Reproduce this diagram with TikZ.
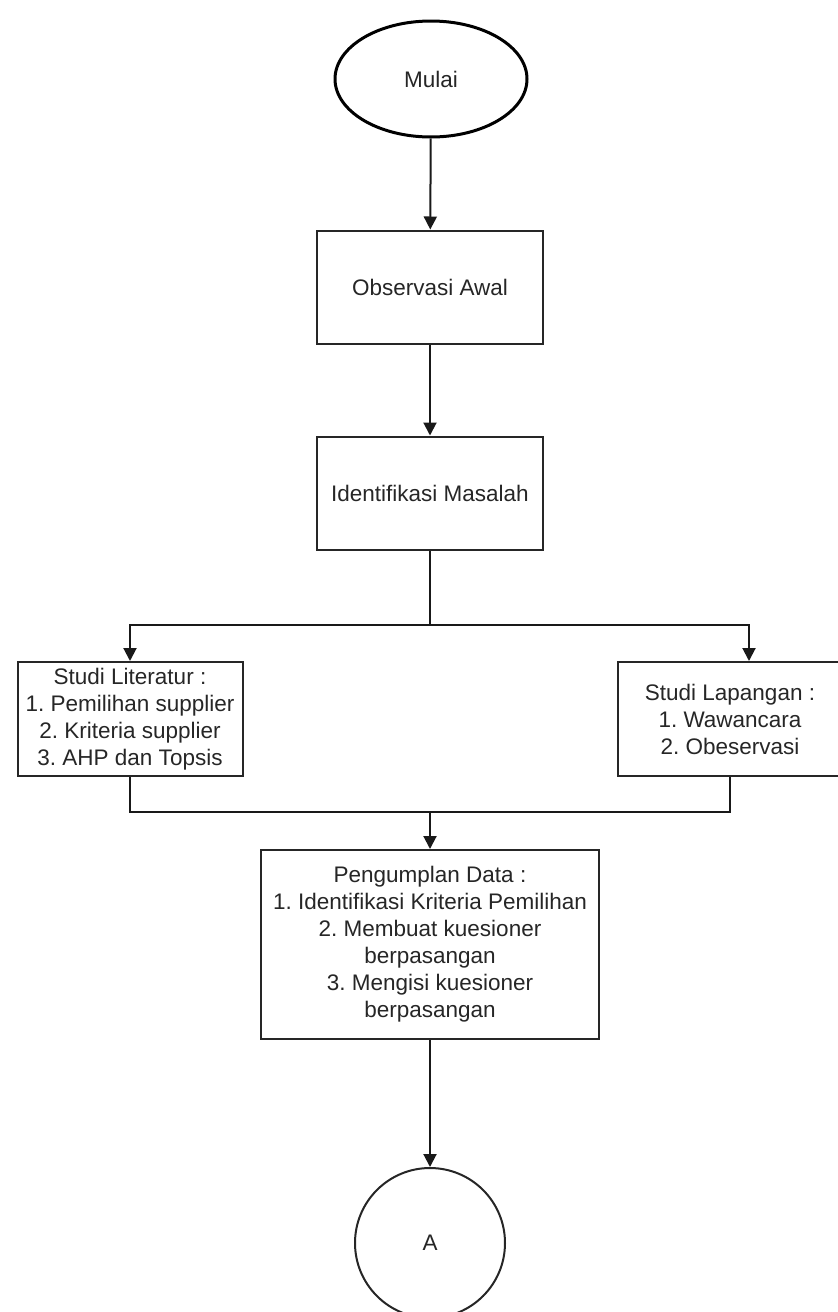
\documentclass[tikz,border=0pt]{standalone}
\usepackage{fontspec}
\setmainfont{Liberation Sans}
\frenchspacing
\usetikzlibrary{arrows.meta,shapes.geometric,calc}
\begin{document}
\begin{tikzpicture}[x=1pt,y=-1pt,
  every node/.style={font=\fontsize{22.5}{27}\selectfont\frenchspacing, text=black!85, align=center, inner sep=0pt},
  procbox/.style={draw=black!85, line width=2pt, rectangle, minimum width=#1},
  terminal/.style={draw=black, line width=3pt, ellipse, minimum width=192, minimum height=116},
  connector/.style={draw=black!85, line width=2pt, circle, minimum size=150},
  flow/.style={draw=black!90, line width=2pt, -{Triangle[width=13pt,length=13pt]}},
  link/.style={draw=black!90, line width=2pt}]
\useasboundingbox (0,0) rectangle (838,1312);
\clip (0,0) rectangle (838,1312);
\node[terminal] (start) at (431,79) {Mulai};
\node[procbox=226, minimum height=113] (obs) at (430,287) {Observasi Awal};
\node[procbox=226, minimum height=113] (idm) at (430,493) {Identifikasi Masalah};
\node[procbox=225, minimum height=114] (lit) at (130,719) {Studi Literatur :\\1. Pemilihan supplier\\2. Kriteria supplier\\3. AHP dan Topsis};
\node[procbox=224, minimum height=114] (lap) at (730,719) {Studi Lapangan :\\1. Wawancara\\2. Obeservasi};
\node[procbox=338, minimum height=189] (pd) at (430,944.5) {Pengumplan Data :\\1. Identifikasi Kriteria Pemilihan\\2. Membuat kuesioner\\berpasangan\\3. Mengisi kuesioner\\berpasangan};
\node[connector] (A) at (430,1243) {A};
\coordinate (split) at (430,625);
\coordinate (lapin) at (749,625);
\coordinate (merge) at (430,812);
\draw[flow] (start) -- (obs);
\draw[flow] (obs) -- (idm);
\draw[link] (idm.south) -- (split);
\draw[flow] (split) -| (lit.north);
\draw[flow] (split) -- (lapin) -- (lapin |- lap.north);
\draw[link] (lit.south) |- (merge) -| (lap.south);
\draw[flow] (merge) -- (pd.north);
\draw[flow] (pd.south) -- (A.north);
\end{tikzpicture}
\end{document}
